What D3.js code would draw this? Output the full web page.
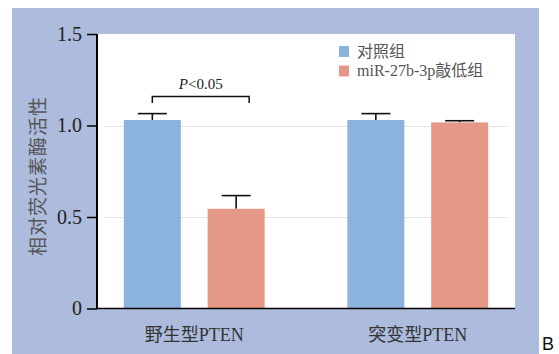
<!DOCTYPE html>
<html>
<head>
<meta charset="utf-8">
<script src="https://cdn.jsdelivr.net/npm/d3@7"></script>
<style>
  html, body { margin: 0; padding: 0; background: #fff; }
  svg { display: block; }
</style>
</head>
<body>
<svg id="chart" width="559" height="354"></svg>
<script>
// Relative luciferase activity, wild-type vs mutant PTEN
const groups = ["野生型PTEN", "突变型PTEN"];
const seriesNames = ["对照组", "miR-27b-3p敲低组"];
const controlValues = [1.03, 1.03];
const controlErrors = [0.035, 0.035];
const knockdownValues = [0.545, 1.017];
const knockdownErrors = [0.072, 0.009];
const yTicks = [0, 0.5, 1.0, 1.5];
const yTickLabels = ["0", "0.5", "1.0", "1.5"];
const yTitle = "相对荧光素酶活性";
const sigLabel = "P<0.05";

const colors = ["#8cb2de", "#e59886"];
const serif = "'Liberation Serif', 'Times New Roman', 'Noto Sans CJK SC', serif";

const svg = d3.select("#chart");

// panel background
svg.append("rect").attr("x", 12).attr("y", 8).attr("width", 527).attr("height", 346)
  .attr("fill", "#adbbdd");

const plot = { left: 97, right: 515, top: 34, bottom: 308.5 };
svg.append("rect").attr("x", plot.left).attr("y", plot.top)
  .attr("width", plot.right - plot.left).attr("height", plot.bottom - plot.top)
  .attr("fill", "#fff");

const y = d3.scaleLinear().domain([0, 1.5]).range([plot.bottom, plot.top]);
const x0 = d3.scaleBand().domain(groups).range([plot.left, plot.right])
  .paddingInner(0.37).paddingOuter(0.12);
const x1 = d3.scaleBand().domain(seriesNames).range([0, x0.bandwidth()]).paddingInner(0.32);

// gridlines
svg.append("g").selectAll("line").data([0.5, 1.0]).join("line")
  .attr("x1", 105).attr("x2", 507)
  .attr("y1", d => Math.round(y(d)) + 0.5).attr("y2", d => Math.round(y(d)) + 0.5)
  .attr("stroke", "#e2e2e2").attr("stroke-width", 1.2);

const rows = groups.map((g, i) => ({
  group: g,
  items: [
    { name: seriesNames[0], value: controlValues[i], err: controlErrors[i], color: colors[0] },
    { name: seriesNames[1], value: knockdownValues[i], err: knockdownErrors[i], color: colors[1] }
  ]
}));

const gGroups = svg.append("g").selectAll("g").data(rows).join("g")
  .attr("transform", d => `translate(${x0(d.group)},0)`);

// error bars (upper whisker only)
gGroups.selectAll("g.err").data(d => d.items).join("g").attr("class", "err").each(function(d) {
  const cx = x1(d.name) + x1.bandwidth() / 2;
  const g = d3.select(this);
  g.append("line").attr("x1", cx).attr("x2", cx)
    .attr("y1", y(d.value)).attr("y2", y(d.value + d.err))
    .attr("stroke", "#111").attr("stroke-width", 1.6);
  g.append("line").attr("x1", cx - 14.5).attr("x2", cx + 14.5)
    .attr("y1", y(d.value + d.err)).attr("y2", y(d.value + d.err))
    .attr("stroke", "#111").attr("stroke-width", 1.6);
});

gGroups.selectAll("rect").data(d => d.items).join("rect")
  .attr("x", d => x1(d.name))
  .attr("width", x1.bandwidth())
  .attr("y", d => y(d.value))
  .attr("height", d => y(0) - y(d.value))
  .attr("fill", d => d.color);

// axes
const yAxis = d3.axisLeft(y).tickValues(yTicks)
  .tickFormat((d, i) => yTickLabels[i]).tickSize(10).tickPadding(5);
const gy = svg.append("g").attr("transform", `translate(${plot.left},0)`).call(yAxis);
gy.select(".domain").attr("stroke", "#000").attr("stroke-width", 2)
  .attr("d", `M0,${plot.top}V${plot.bottom}`);
gy.selectAll(".tick line").attr("stroke", "#000").attr("stroke-width", 1.5);
gy.selectAll(".tick text").attr("fill", "#222")
  .style("font-family", serif).style("font-size", "20px");

const xAxis = d3.axisBottom(x0).tickSize(0).tickPadding(20);
const gx = svg.append("g").attr("transform", `translate(0,${plot.bottom})`).call(xAxis);
gx.select(".domain").attr("stroke", "#000").attr("stroke-width", 1.5)
  .attr("d", `M${plot.left - 1},0H${plot.right}`);
gx.selectAll(".tick text").attr("fill", "#333")
  .style("font-family", serif).style("font-size", "18px");

// y-axis title
svg.append("text")
  .attr("transform", `translate(45,176) rotate(-90)`)
  .attr("text-anchor", "middle")
  .attr("fill", "#555")
  .style("font-family", "'Noto Sans CJK SC', sans-serif")
  .style("font-size", "19px")
  .style("letter-spacing", "1px")
  .text(yTitle);

// significance bracket between the wild-type bars
const wt = rows[0];
const bx1 = x0(wt.group) + x1(seriesNames[0]) + x1.bandwidth() / 2;
const bx2 = x0(wt.group) + x1(seriesNames[1]) + x1.bandwidth() / 2 + 13;
svg.append("path")
  .attr("d", `M${bx1},103V96.5H${bx2}V103`)
  .attr("fill", "none").attr("stroke", "#111").attr("stroke-width", 1.5);
const sig = svg.append("text")
  .attr("x", (bx1 + bx2) / 2).attr("y", 89)
  .attr("text-anchor", "middle").attr("fill", "#222")
  .style("font-family", serif).style("font-size", "15px");
sig.append("tspan").style("font-style", "italic").text(sigLabel.slice(0, 1));
sig.append("tspan").text(sigLabel.slice(1));

// legend
const legend = svg.append("g").attr("transform", "translate(339,46)");
seriesNames.forEach((name, i) => {
  const row = legend.append("g").attr("transform", `translate(0,${i * 19.5})`);
  row.append("rect").attr("width", 10).attr("height", 11).attr("fill", colors[i]);
  row.append("text").attr("x", 18).attr("y", 10.5)
    .attr("fill", "#555")
    .style("font-family", serif).style("font-size", "16px")
    .text(name);
});

// panel letter
svg.append("text").attr("x", 542).attr("y", 350)
  .attr("fill", "#111")
  .style("font-family", "'Liberation Sans', Arial, sans-serif")
  .style("font-size", "18px")
  .text("B");
</script>
</body>
</html>
